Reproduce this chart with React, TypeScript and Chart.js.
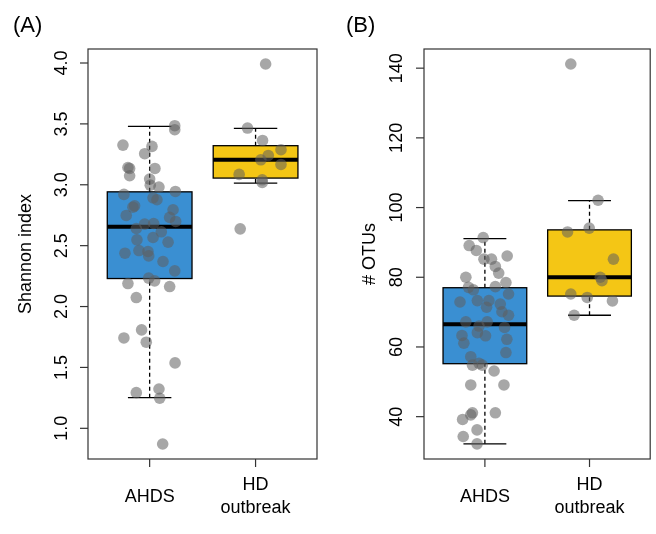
import React, { useEffect, useRef } from "react";
import { Chart, registerables } from "chart.js";
Chart.register(...registerables);

const categories = ["AHDS", "HD\noutbreak"];
// box stats: [whiskerLow, q1, median, q3, whiskerHigh]
const boxA = [[1.252, 2.23, 2.655, 2.942, 3.479], [3.014, 3.055, 3.205, 3.321, 3.463]];
const boxB = [[32.2, 55.2, 66.5, 77.0, 91.1], [69.1, 74.6, 80.0, 93.6, 102.0]];
const colors = ["#3A8FD2", "#F4C615"];
// jittered points [x, value]
const ptsA: number[][] = [
  [1.237,3.485],[1.237,3.452],[0.748,3.326],[1.022,3.315],[0.953,3.255],[0.795,3.142],[0.811,3.134],[1.05,3.134],
  [0.811,3.074],[1.0,3.047],[1.006,2.997],[1.088,2.981],[1.243,2.945],[0.757,2.921],[1.032,2.893],[1.069,2.877],
  [0.858,2.827],[0.842,2.816],[0.779,2.748],[1.221,2.795],[1.189,2.732],[1.246,2.699],[0.953,2.677],[1.038,2.682],
  [0.874,2.641],[1.11,2.614],[1.032,2.567],[0.88,2.548],[1.174,2.529],[0.767,2.438],[0.899,2.46],[0.984,2.452],
  [0.991,2.416],[1.126,2.37],[1.237,2.293],[0.795,2.189],[0.991,2.233],[1.047,2.211],[1.189,2.164],[0.874,2.074],
  [0.924,1.808],[0.757,1.742],[0.968,1.707],[1.24,1.537],[0.874,1.293],[1.088,1.323],[1.095,1.247],[1.123,0.871],
  [2.095,3.992],[1.924,3.466],[2.066,3.364],[2.24,3.288],[2.12,3.241],[2.05,3.205],[2.24,3.167],[1.845,3.085],
  [2.063,3.041],[2.063,3.019],[1.855,2.638],
];
const ptsB: number[][] = [
  [0.984,91.4],[0.85,89.1],[0.918,87.7],[0.991,85.2],[1.063,85.2],[1.1,83.1],[1.132,81.2],[1.213,86.1],
  [0.818,80.0],[1.201,78.5],[0.843,77.1],[1.1,77.3],[0.89,76.4],[1.226,75.2],[0.762,72.9],[0.928,73.3],
  [1.038,73.3],[1.147,72.3],[1.016,71.4],[1.163,70.1],[1.226,69.1],[0.818,67.2],[1.022,67.2],[0.944,66.0],
  [1.188,65.6],[0.928,64.1],[1.006,63.2],[0.781,63.3],[1.21,62.2],[0.799,61.1],[1.201,58.4],[0.865,57.2],
  [0.881,54.8],[0.944,55.3],[0.975,54.8],[1.088,53.1],[0.865,49.1],[1.182,49.1],[0.881,41.1],[0.787,39.2],
  [0.865,40.5],[1.1,41.1],[0.925,36.2],[0.793,34.3],[0.925,32.2],
  [1.821,141.2],[2.082,102.1],[1.79,93.0],[1.997,94.1],[2.229,85.2],[2.103,80.0],[2.119,79.0],[1.821,75.2],
  [1.978,74.2],[2.219,73.2],[1.853,69.1],
];
const ticksA = [1.0, 1.5, 2.0, 2.5, 3.0, 3.5, 4.0];
const ticksB = [40, 60, 80, 100, 120, 140];

const FONT = "'Liberation Sans', Arial, sans-serif";

function makePlugin(boxes: number[][], ticks: number[], dec: number, ylab: string, panel: string, ylabX: number, tickLabX: number) {
  return {
    id: "boxdraw",
    beforeDatasetsDraw(chart: any) {
      const { ctx, scales } = chart;
      const xs = scales.x, ys = scales.y;
      ctx.save();
      boxes.forEach((b, i) => {
        const cx = xs.getPixelForValue(i + 1);
        const hw = xs.getPixelForValue(i + 1.4) - cx;
        const cw = xs.getPixelForValue(i + 1.205) - cx;
        const p = b.map((v) => ys.getPixelForValue(v));
        ctx.strokeStyle = "#000";
        ctx.lineWidth = 1.3;
        ctx.setLineDash([4, 3]);
        ctx.beginPath();
        ctx.moveTo(cx, p[0]); ctx.lineTo(cx, p[1]);
        ctx.moveTo(cx, p[3]); ctx.lineTo(cx, p[4]);
        ctx.stroke();
        ctx.setLineDash([]);
        ctx.beginPath();
        ctx.moveTo(cx - cw, p[0]); ctx.lineTo(cx + cw, p[0]);
        ctx.moveTo(cx - cw, p[4]); ctx.lineTo(cx + cw, p[4]);
        ctx.stroke();
        ctx.fillStyle = colors[i];
        ctx.fillRect(cx - hw, p[3], 2 * hw, p[1] - p[3]);
        ctx.strokeRect(cx - hw, p[3], 2 * hw, p[1] - p[3]);
        ctx.lineWidth = 4;
        ctx.beginPath();
        ctx.moveTo(cx - hw, p[2]); ctx.lineTo(cx + hw, p[2]);
        ctx.stroke();
      });
      ctx.restore();
    },
    afterDraw(chart: any) {
      const { ctx, chartArea: a, scales } = chart;
      const xs = scales.x, ys = scales.y;
      ctx.save();
      ctx.strokeStyle = "#333";
      ctx.lineWidth = 1.2;
      ctx.strokeRect(a.left, a.top, a.right - a.left, a.bottom - a.top);
      ctx.fillStyle = "#000";
      ctx.font = `18px ${FONT}`;
      ticks.forEach((t) => {
        const y = ys.getPixelForValue(t);
        ctx.beginPath(); ctx.moveTo(a.left - 8, y); ctx.lineTo(a.left, y); ctx.stroke();
        ctx.save();
        ctx.translate(tickLabX, y);
        ctx.rotate(-Math.PI / 2);
        ctx.textAlign = "center"; ctx.textBaseline = "middle";
        ctx.fillText(t.toFixed(dec), 0, 0);
        ctx.restore();
      });
      ctx.textAlign = "center"; ctx.textBaseline = "middle";
      categories.forEach((c, i) => {
        const x = xs.getPixelForValue(i + 1);
        ctx.beginPath(); ctx.moveTo(x, a.bottom); ctx.lineTo(x, a.bottom + 8); ctx.stroke();
        const lines = c.split("\n");
        if (lines.length === 1) ctx.fillText(lines[0], x, a.bottom + 38);
        else lines.forEach((l, j) => ctx.fillText(l, x, a.bottom + 26 + j * 23));
      });
      ctx.save();
      ctx.translate(ylabX, (a.top + a.bottom) / 2);
      ctx.rotate(-Math.PI / 2);
      ctx.fillText(ylab, 0, 0);
      ctx.restore();
      ctx.font = `22px ${FONT}`;
      ctx.textAlign = "left";
      ctx.fillText(panel, panel === "(A)" ? 13 : 18, 26);
      ctx.restore();
    },
  };
}

function Panel(props: { pts: number[][]; boxes: number[][]; ticks: number[]; dec: number; ymin: number; ymax: number; ylab: string; panel: string; padLeft: number; padRight: number; ylabX: number; tickLabX: number; left: number }) {
  const ref = useRef<HTMLCanvasElement>(null);
  useEffect(() => {
    const chart = new Chart(ref.current!, {
      type: "scatter",
      data: {
        datasets: [{
          data: props.pts.map(([x, y]) => ({ x, y })),
          backgroundColor: "rgba(95,95,95,0.55)",
          borderWidth: 0,
          pointRadius: 5.8,
        }],
      },
      options: {
        animation: false,
        responsive: false,
        devicePixelRatio: 1,
        layout: { padding: { left: props.padLeft, right: props.padRight, top: 49, bottom: 75 } },
        plugins: { legend: { display: false }, tooltip: { enabled: false } },
        scales: {
          x: { type: "linear", min: 0.418, max: 2.58, display: false },
          y: { type: "linear", min: props.ymin, max: props.ymax, display: false },
        },
      },
      plugins: [makePlugin(props.boxes, props.ticks, props.dec, props.ylab, props.panel, props.ylabX, props.tickLabX)],
    });
    return () => chart.destroy();
  }, []);
  return <canvas ref={ref} width={328} height={534} style={{ position: "absolute", left: props.left, top: 0 }} />;
}

export default function App() {
  return (
    <div style={{ position: "fixed", left: 0, top: 0, width: 656, height: 534, background: "#fff" }}>
      <Panel pts={ptsA} boxes={boxA} ticks={ticksA} dec={1} ymin={0.748} ymax={4.115} ylab="Shannon index" panel="(A)" padLeft={88} padRight={11} ylabX={26} tickLabX={62} left={0} />
      <Panel pts={ptsB} boxes={boxB} ticks={ticksB} dec={0} ymin={27.85} ymax={145.5} ylab="# OTUs" panel="(B)" padLeft={96} padRight={3} ylabX={42} tickLabX={69} left={328} />
    </div>
  );
}
